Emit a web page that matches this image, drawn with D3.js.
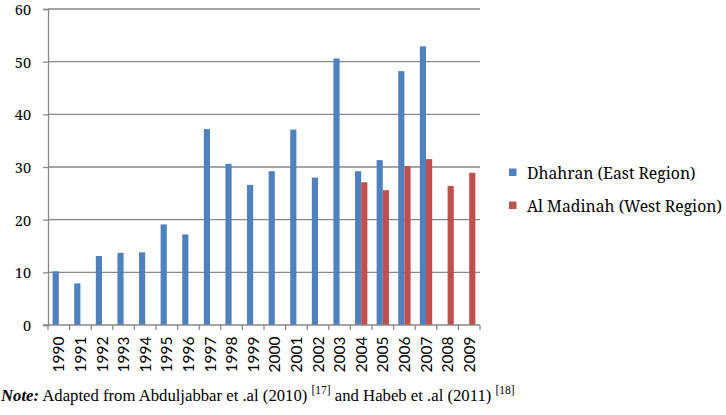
<!DOCTYPE html>
<html>
<head>
<meta charset="utf-8">
<script src="https://cdn.jsdelivr.net/npm/d3@7"></script>
<style>
  html, body { margin: 0; padding: 0; background: #fff; }
  svg { display: block; }
</style>
</head>
<body>
<svg id="chart" width="726" height="415"></svg>
<script>
const years = ["1990","1991","1992","1993","1994","1995","1996","1997","1998","1999",
               "2000","2001","2002","2003","2004","2005","2006","2007","2008","2009"];
const seriesNames = ["Dhahran (East Region)", "Al Madinah (West Region)"];
const dhahran = [10.2, 7.9, 13.1, 13.7, 13.8, 19.1, 17.2, 37.2, 30.6, 26.6,
                 29.2, 37.1, 28.0, 50.6, 29.2, 31.3, 48.2, 52.9, null, null];
const madinah = [null, null, null, null, null, null, null, null, null, null,
                 null, null, null, null, 27.1, 25.6, 30.2, 31.5, 26.4, 28.9];
const yTicks = [0, 10, 20, 30, 40, 50, 60];
const colors = ["#4F81BD", "#C0504D"];

const svg = d3.select("#chart");
const plotLeft = 48, plotRight = 480, plotTop = 9, plotBottom = 325;

const x = d3.scaleBand().domain(years).range([plotLeft, plotRight]).padding(0);
const y = d3.scaleLinear().domain([0, 60]).range([plotBottom, plotTop]);
const bw = x.bandwidth() / 3.5;
const x1 = d3.scaleBand().domain(seriesNames)
  .range([(x.bandwidth() - 2 * bw) / 2, (x.bandwidth() + 2 * bw) / 2]).padding(0);

const gridColor = "#898989";
const serifFont = '"Noto Serif", "DejaVu Serif", serif';

// fit a text element's font size so its width equals target
function fit(sel, target) {
  const base = parseFloat(sel.style("font-size"));
  const w = sel.node().getComputedTextLength();
  sel.style("font-size", (base * target / w) + "px");
}

// gridlines
svg.append("g").selectAll("line").data(yTicks.filter(d => d > 0)).join("line")
  .attr("x1", plotLeft).attr("x2", plotRight)
  .attr("y1", d => y(d)).attr("y2", d => y(d))
  .attr("stroke", gridColor).attr("stroke-width", 1.3);

// y axis
const yAxis = svg.append("g").attr("transform", `translate(${plotLeft},0)`)
  .call(d3.axisLeft(y).tickValues(yTicks).tickSize(5).tickPadding(12));
yAxis.select(".domain").attr("stroke", gridColor).attr("stroke-width", 1.3);
yAxis.selectAll(".tick line").attr("stroke", gridColor).attr("stroke-width", 1.3);
yAxis.selectAll(".tick text")
  .style("font-family", serifFont).style("font-size", "14.5px").attr("fill", "#000")
  .attr("dy", "0.38em").attr("x", -17);

// bars
const series = [dhahran, madinah];
series.forEach((vals, si) => {
  svg.append("g").selectAll("rect")
    .data(years.map((yr, i) => ({ yr, v: vals[i] })).filter(d => d.v != null))
    .join("rect")
    .attr("x", d => x(d.yr) + x1(seriesNames[si]))
    .attr("width", x1.bandwidth())
    .attr("y", d => y(d.v))
    .attr("height", d => y(0) - y(d.v))
    .attr("fill", colors[si]);
});

// x axis
const xAxisG = svg.append("g").attr("transform", `translate(0,${plotBottom})`);
xAxisG.append("line").attr("x1", plotLeft - 5).attr("x2", plotRight)
  .attr("y1", 0).attr("y2", 0).attr("stroke", gridColor).attr("stroke-width", 1.3);
const bounds = years.map(yr => x(yr)).concat([plotRight]);
xAxisG.selectAll("line.tk").data(bounds).join("line").attr("class", "tk")
  .attr("x1", d => d).attr("x2", d => d).attr("y1", 0).attr("y2", 5)
  .attr("stroke", gridColor).attr("stroke-width", 1.3);
xAxisG.selectAll("text").data(years).join("text")
  .attr("transform", d => `translate(${x(d) + x.bandwidth() / 2 + 5.5},11.5) rotate(-90)`)
  .attr("text-anchor", "end")
  .style("font-family", 'Lato, "Open Sans", sans-serif')
  .style("font-size", "15.5px")
  .attr("fill", "#000")
  .text(d => d);

// legend
const legend = svg.append("g");
seriesNames.forEach((name, i) => {
  const ly = 179 + i * 33;
  legend.append("rect").attr("x", 509).attr("y", ly - 10.5).attr("width", 7.5).attr("height", 7.5)
    .attr("fill", colors[i]);
  const t = legend.append("text").attr("x", 527).attr("y", ly)
    .style("font-family", serifFont).style("font-size", "17px")
    .attr("fill", "#000").text(name);
  if (i === 1) fit(t, 195);
});
const lsize = legend.selectAll("text").filter((d, i) => i === 1).style("font-size");
legend.selectAll("text").style("font-size", lsize);

// note
const note = svg.append("text").attr("x", 1).attr("y", 401)
  .style("font-family", '"Liberation Serif", "Times New Roman", serif')
  .style("font-size", "16.7px").attr("fill", "#000");
note.append("tspan").attr("font-weight", "bold").attr("font-style", "italic").text("Note:");
note.append("tspan").text(" Adapted from Abduljabbar et .al (2010) ");
note.append("tspan").style("font-size", "11.5px").attr("dy", -7).text("[17]");
note.append("tspan").attr("dy", 7).text(" and Habeb et .al (2011) ");
note.append("tspan").style("font-size", "11.5px").attr("dy", -7).text("[18]");
</script>
</body>
</html>
